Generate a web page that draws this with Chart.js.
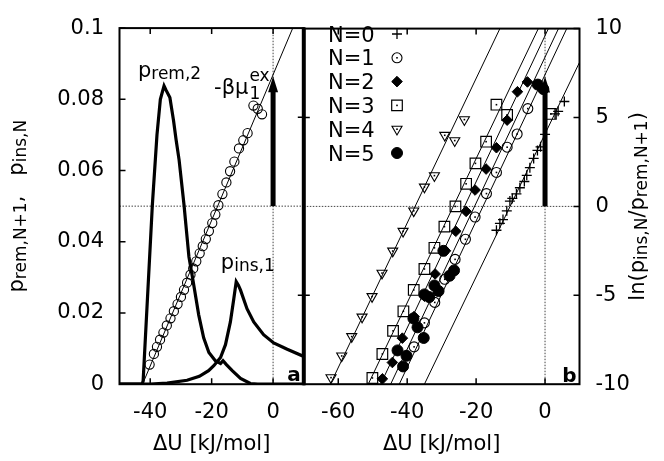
<!DOCTYPE html>
<html><head><meta charset="utf-8">
<script src="https://cdn.jsdelivr.net/npm/chart.js@4.4.1/dist/chart.umd.min.js"></script>
<style>
html,body{margin:0;padding:0;background:#fff;}
#wrap{position:relative;width:664px;height:461px;background:#fff;}
canvas{position:absolute;left:0;top:0;}
</style></head><body>
<div id="wrap"><canvas id="ca" width="664" height="461"></canvas><canvas id="cb" width="664" height="461"></canvas></div>
<script>
const FONT = "'DejaVu Sans', sans-serif";

// ---------------- data ----------------
const xTicksA = [-40, -20, 0];
const yTicksA = [0, 0.02, 0.04, 0.06, 0.08, 0.1];
const xTicksB = [-60, -40, -20, 0];
const lnTicksB = [-10, -5, 0, 5, 10];
const lnMirrorTicks = [-5, 5];
const xRangeA = [-50, 10];
const xRangeB = [-70, 10];
const probRange = [0, 0.1];
const lnRange = [-10, 10];

const pRem2 = [[-50,0],[-42.6,0],[-42.3,0.001],[-39.3,0.0504],[-37.8,0.07],[-36.7,0.08],[-35.5,0.0838],[-34.8,0.0825],[-33.6,0.0805],[-32.4,0.074],[-31.6,0.0688],[-30.6,0.063],[-29.0,0.0504],[-28.4,0.0449],[-27.4,0.0358],[-26.3,0.0303],[-25.5,0.0262],[-24.2,0.0194],[-22.6,0.013],[-20.9,0.0089],[-18.8,0.0066],[-17.1,0.0058],[-16.3,0.0066],[-15.2,0.0055],[-13.3,0.0038],[-10.6,0.0016],[-7.4,0.0002],[-5,0],[10,0]];
const pIns1 = [[-50,0],[-40,0],[-34.5,0.0003],[-28,0.0011],[-24,0.0022],[-21,0.0038],[-19.3,0.0052],[-17.1,0.0075],[-15.5,0.0111],[-13.9,0.0175],[-12.8,0.0239],[-12.0,0.0288],[-11.3,0.0278],[-10.6,0.0264],[-8.5,0.0212],[-6.3,0.0175],[-3.1,0.0139],[0.2,0.0116],[4.6,0.0098],[10,0.0078]];
const circlesA = [[-40.2,-8.9],[-38.8,-8.3],[-37.8,-7.9],[-36.8,-7.5],[-35.7,-7.1],[-34.6,-6.7],[-33.4,-6.3],[-32.3,-5.9],[-31.1,-5.5],[-30.0,-5.1],[-29.0,-4.7],[-28.0,-4.3],[-26.9,-3.85],[-26.0,-3.5],[-25.0,-3.1],[-23.9,-2.65],[-22.9,-2.25],[-21.9,-1.85],[-20.9,-1.4],[-19.8,-0.95],[-18.8,-0.47],[-17.8,0.05],[-16.5,0.68],[-15.2,1.33],[-14.0,1.96],[-12.6,2.5],[-11.1,3.24],[-9.7,3.7],[-8.3,4.1],[-6.4,5.65],[-5.0,5.47],[-3.6,5.16]];
const fitA = [[-42.5,-10],[6.4,10]];

const n0 = [[-14.1,-1.34],[-13.1,-0.95],[-12.2,-0.74],[-11.1,-0.25],[-10.2,0.3],[-9.5,0.45],[-8.3,0.7],[-7.3,1.05],[-6.0,1.4],[-5.3,1.75],[-4.4,2.18],[-3.3,2.7],[-2.2,3.15],[-1.3,3.35],[0,4.05],[2.9,5.2],[3.8,5.35],[5.6,5.9]];
const n1 = [[-38.0,-7.9],[-35.0,-6.55],[-32.0,-5.4],[-29.1,-4.1],[-26.1,-2.98],[-23.1,-1.85],[-20.3,-0.6],[-17.0,0.72],[-14.1,1.91],[-11.0,3.33],[-8.1,4.07],[-5.0,5.5]];
const n2 = [[-47.2,-9.7],[-44.3,-8.78],[-41.4,-7.41],[-38.0,-6.2],[-35.0,-5.05],[-31.9,-3.8],[-28.9,-2.5],[-25.9,-1.4],[-22.9,-0.28],[-20.3,0.92],[-17.1,2.1],[-14.1,3.3],[-11.0,4.85],[-8.0,6.45],[-5.1,7.0]];
const n3 = [[-50.1,-9.65],[-47.2,-8.3],[-44.1,-7.0],[-41.1,-5.9],[-38.1,-4.7],[-35.0,-3.52],[-32.1,-2.33],[-29.2,-1.14],[-26.0,0.0],[-22.9,1.27],[-20.2,2.42],[-17.1,3.64],[-14.1,5.72],[-11.0,5.15],[1.7,5.2]];
const n4 = [[-62.1,-9.63],[-59.0,-8.41],[-56.1,-7.32],[-53.1,-6.22],[-50.2,-5.07],[-47.3,-3.75],[-44.2,-2.51],[-41.2,-1.4],[-38.1,-0.25],[-35.0,1.09],[-32.1,1.73],[-29.1,4.0],[-26.2,3.7],[-23.4,4.88]];
const n5 = [[-42.8,-8.1],[-41.2,-9.0],[-40.2,-8.4],[-38.2,-6.3],[-37.0,-6.8],[-35.2,-7.4],[-35.0,-4.95],[-33.6,-5.1],[-32.1,-4.45],[-30.9,-4.76],[-29.5,-2.5],[-27.7,-3.9],[-26.4,-3.6],[-2.1,6.85],[-0.5,6.6]];
const fit0 = [[-35.0,-10],[10,8.1]];
const fit1 = [[-42.3,-10],[6.3,10]];
const fit2 = [[-47.7,-10],[0.97,10]];
const fit3 = [[-51.3,-10],[-1.95,10]];
const fit4 = [[-62.3,-10],[-13.1,10]];
const fit5 = [[-44.8,-10],[3.9,10]];
const arrowX = 0;
const arrowLn = [0, 7.3];
const zeroLn = 0;
const legendLabels = ['N=0','N=1','N=2','N=3','N=4','N=5'];

// ---------------- helpers ----------------
Chart.defaults.font.family = FONT;
Chart.defaults.color = '#000';
const pts = a => a.map(([x, y]) => ({x, y}));
const TICKF = {family: FONT, size: 21};

const markerStyles = [
  {pointStyle:'cross', radius:5, fill:false, bw:1.3, dot:false, rot:0},
  {pointStyle:'circle', radius:5, fill:false, bw:1.1, dot:true, rot:0},
  {pointStyle:'rectRot', radius:5.3, fill:true, bw:1, dot:false, rot:0},
  {pointStyle:'rect', radius:7.5, fill:false, bw:1.2, dot:true, rot:0},
  {pointStyle:'triangle', radius:5.8, fill:false, bw:1.1, dot:true, rot:180},
  {pointStyle:'circle', radius:5.5, fill:true, bw:1, dot:false, rot:0}
];

function markerDs(data, st) {
  return {data: pts(data), showLine:false, pointStyle: st.pointStyle, pointRadius: st.radius,
    pointRotation: st.rot, pointBorderWidth: st.bw, pointBorderColor:'#000',
    pointBackgroundColor: st.fill ? '#000' : 'rgba(0,0,0,0)', centerDot: st.dot, order:1, yAxisID:'y'};
}
function lineDs(data, w, axis, order, dash) {
  return {data: pts(data), showLine:true, borderColor: dash ? '#444' : '#000', borderWidth:w, pointRadius:0,
    tension:0, yAxisID:axis, order:order, borderDash: dash || []};
}

function rich(ctx, segs, x, y, align) {
  let w = 0;
  segs.forEach(s => { ctx.font = `${s[3]||'normal'} ${s[1]}px ${FONT}`; w += ctx.measureText(s[0]).width; });
  let cx = align === 'center' ? x - w/2 : (align === 'right' ? x - w : x);
  ctx.textAlign = 'left'; ctx.textBaseline = 'alphabetic'; ctx.fillStyle = '#000';
  segs.forEach(s => { ctx.font = `${s[3]||'normal'} ${s[1]}px ${FONT}`; ctx.fillText(s[0], cx, y + (s[2]||0)); cx += ctx.measureText(s[0]).width; });
  return w;
}

function centerDots(chart) {
  const ctx = chart.ctx;
  ctx.save(); ctx.fillStyle = '#000';
  chart.data.datasets.forEach((ds, i) => {
    if (!ds.centerDot) return;
    chart.getDatasetMeta(i).data.forEach(el => ctx.fillRect(el.x - 0.8, el.y - 0.8, 1.6, 1.6));
  });
  ctx.restore();
}

function drawArrow(ctx, xs, ys) {
  const px = xs.getPixelForValue(arrowX);
  const y0 = ys.getPixelForValue(arrowLn[0]);
  const y1 = ys.getPixelForValue(arrowLn[1]);
  ctx.save(); ctx.fillStyle = '#000';
  ctx.fillRect(px - 2.5, y1 + 12, 5, y0 - y1 - 12);
  ctx.beginPath(); ctx.moveTo(px, y1); ctx.lineTo(px + 5, y1 + 16); ctx.lineTo(px - 5, y1 + 16); ctx.closePath(); ctx.fill();
  ctx.restore();
}

const panelA = {
  id: 'panelA',
  afterDatasetsDraw(chart) {
    centerDots(chart);
    drawArrow(chart.ctx, chart.scales.x, chart.scales.yr);
  },
  afterDraw(chart) {
    const {ctx, chartArea: a} = chart;
    const {x, y, yr} = chart.scales;
    ctx.save();
    ctx.strokeStyle = '#000'; ctx.lineWidth = 2;
    ctx.strokeRect(a.left, a.top, a.right - a.left, a.bottom - a.top);
    ctx.lineWidth = 1.5; ctx.beginPath();
    xTicksA.forEach(v => { const p = x.getPixelForValue(v); ctx.moveTo(p, a.bottom); ctx.lineTo(p, a.bottom - 6); ctx.moveTo(p, a.top); ctx.lineTo(p, a.top + 6); });
    yTicksA.forEach(v => { const p = y.getPixelForValue(v); ctx.moveTo(a.left, p); ctx.lineTo(a.left + 6, p); });
    lnMirrorTicks.forEach(v => { const p = yr.getPixelForValue(v); ctx.moveTo(a.right, p); ctx.lineTo(a.right - 6, p); });
    ctx.stroke();
    // y title
    ctx.save(); ctx.translate(23, (a.top + a.bottom) / 2); ctx.rotate(-Math.PI / 2);
    rich(ctx, [['p',21],['rem,N+1',17,3],[',',21],['   ',21],['p',21],['ins,N',17,3]], 0, 0, 'center');
    ctx.restore();
    // annotations
    rich(ctx, [['p',21],['rem,2',17,2]], x.getPixelForValue(-44.0), y.getPixelForValue(0.0864), 'left');
    rich(ctx, [['p',21],['ins,1',17,2]], x.getPixelForValue(-17.0), y.getPixelForValue(0.0324), 'left');
    const bx = x.getPixelForValue(-19.2), by = y.getPixelForValue(0.0815);
    const w = rich(ctx, [['-βμ',21]], bx, by, 'left');
    rich(ctx, [['1',17]], bx + w + 1, by + 5, 'left');
    rich(ctx, [['ex',17]], bx + w + 1, by - 13, 'left');
    rich(ctx, [['a',20,0,'bold']], a.right - 3, a.bottom - 3, 'right');
    ctx.restore();
  }
};

const panelB = {
  id: 'panelB',
  afterDatasetsDraw(chart) {
    centerDots(chart);
    drawArrow(chart.ctx, chart.scales.x, chart.scales.y);
  },
  afterDraw(chart) {
    const {ctx, chartArea: a} = chart;
    const {x, y} = chart.scales;
    ctx.save();
    ctx.strokeStyle = '#000'; ctx.lineWidth = 2;
    ctx.strokeRect(a.left, a.top, a.right - a.left, a.bottom - a.top);
    ctx.lineWidth = 4; ctx.beginPath(); ctx.moveTo(a.left, a.top - 1); ctx.lineTo(a.left, a.bottom + 1); ctx.stroke();
    ctx.lineWidth = 1.5; ctx.beginPath();
    xTicksB.forEach(v => { const p = x.getPixelForValue(v); ctx.moveTo(p, a.bottom); ctx.lineTo(p, a.bottom - 6); ctx.moveTo(p, a.top); ctx.lineTo(p, a.top + 6); });
    lnTicksB.forEach(v => { const p = y.getPixelForValue(v); ctx.moveTo(a.right, p); ctx.lineTo(a.right - 6, p); });
    lnMirrorTicks.forEach(v => { const p = y.getPixelForValue(v); ctx.moveTo(a.left, p); ctx.lineTo(a.left + 6, p); });
    ctx.stroke();
    // y title (right)
    ctx.save(); ctx.translate(644, (a.top + a.bottom) / 2); ctx.rotate(-Math.PI / 2);
    rich(ctx, [['ln(',21],['p',21],['ins,N',17,3],['/',21],['p',21],['rem,N+1',17,3],[')',21]], 0, 0, 'center');
    ctx.restore();
    // legend
    legendLabels.forEach((t, i) => {
      const base = 41.5 + 23.8 * i;
      rich(ctx, [[t,21]], 328, base, 'left');
      const st = markerStyles[i];
      ctx.save();
      ctx.strokeStyle = '#000'; ctx.lineWidth = st.bw;
      ctx.fillStyle = st.fill ? '#000' : 'rgba(0,0,0,0)';
      Chart.helpers.drawPoint(ctx, {pointStyle: st.pointStyle, radius: st.radius, rotation: st.rot, borderWidth: st.bw}, 397, base - 7.5);
      if (st.dot) { ctx.fillStyle = '#000'; ctx.fillRect(397 - 0.8, base - 7.5 - 0.8, 1.6, 1.6); }
      ctx.restore();
    });
    rich(ctx, [['b',20,0,'bold']], a.right - 3, a.bottom - 2, 'right');
    ctx.restore();
  }
};

function axisX(range, ticks) {
  return {type:'linear', position:'bottom', min:range[0], max:range[1],
    afterBuildTicks: s => { s.ticks = ticks.map(v => ({value:v})); },
    afterFit: s => { s.height = 76.8; },
    grid:{display:false, drawTicks:false}, border:{display:false},
    ticks:{font:TICKF, color:'#000', padding:16, maxRotation:0, autoSkip:false, callback: v => String(v)},
    title:{display:true, text:'ΔU [kJ/mol]', font:TICKF, color:'#000', padding:{top:0, bottom:4}}};
}

new Chart(document.getElementById('ca'), {
  type:'scatter',
  data:{datasets:[
    {data: pts(circlesA), showLine:false, pointStyle:'circle', pointRadius:4.6, pointBorderWidth:1.1, pointBorderColor:'#000', pointBackgroundColor:'rgba(0,0,0,0)', yAxisID:'yr', order:1},
    lineDs(pRem2, 3.2, 'y', 2),
    lineDs(pIns1, 3.2, 'y', 2),
    lineDs(fitA, 1, 'yr', 3),
    lineDs([[xRangeA[0], zeroLn],[xRangeA[1], zeroLn]], 1, 'yr', 5, [1.5,1.5]),
    lineDs([[arrowX, lnRange[0]],[arrowX, lnRange[1]]], 1, 'yr', 5, [1.5,1.5])
  ]},
  options:{
    responsive:false, animation:false, events:[],
    layout:{padding:{left:0, right:360.2, top:19.5, bottom:0}},
    plugins:{legend:{display:false}, tooltip:{enabled:false}},
    scales:{
      x: axisX(xRangeA, xTicksA),
      y: {type:'linear', position:'left', min:probRange[0], max:probRange[1],
          afterBuildTicks: s => { s.ticks = yTicksA.map(v => ({value:v})); },
          afterFit: s => { s.width = 119.5; },
          grid:{display:false, drawTicks:false}, border:{display:false},
          ticks:{font:TICKF, color:'#000', padding:15.5, callback: v => String(v)}},
      yr: {type:'linear', position:'right', min:lnRange[0], max:lnRange[1], display:false}
    }
  },
  plugins:[panelA]
});

const seriesB = [n0, n1, n2, n3, n4, n5];
const fitsB = [fit0, fit1, fit2, fit3, fit4, fit5];
const dsB = [];
seriesB.forEach((s, i) => dsB.push(markerDs(s, markerStyles[i])));
fitsB.forEach(f => dsB.push(lineDs(f, 1, 'y', 3)));
dsB.push(lineDs([[xRangeB[0], zeroLn],[xRangeB[1], zeroLn]], 1, 'y', 5, [1.5,1.5]));
dsB.push(lineDs([[arrowX, lnRange[0]],[arrowX, lnRange[1]]], 1, 'y', 5, [1.5,1.5]));

new Chart(document.getElementById('cb'), {
  type:'scatter',
  data:{datasets: dsB},
  options:{
    responsive:false, animation:false, events:[],
    layout:{padding:{left:303.8, right:0, top:19.5, bottom:0}},
    plugins:{legend:{display:false}, tooltip:{enabled:false}},
    scales:{
      x: axisX(xRangeB, xTicksB),
      y: {type:'linear', position:'right', min:lnRange[0], max:lnRange[1],
          afterBuildTicks: s => { s.ticks = lnTicksB.map(v => ({value:v})); },
          afterFit: s => { s.width = 84.5; },
          grid:{display:false, drawTicks:false}, border:{display:false},
          ticks:{font:TICKF, color:'#000', padding:16, callback: v => String(v)}}
    }
  },
  plugins:[panelB]
});
</script>
</body></html>
